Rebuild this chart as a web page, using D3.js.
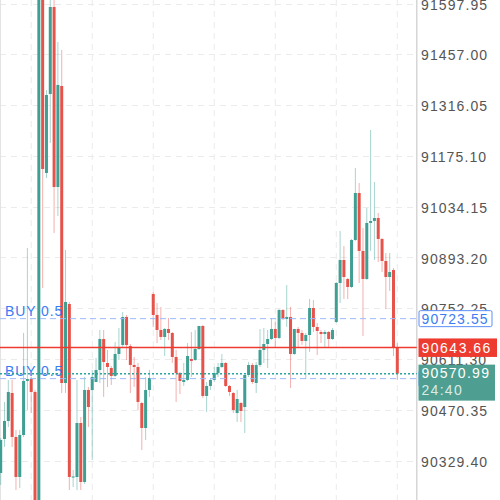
<!DOCTYPE html>
<html><head><meta charset="utf-8">
<script src="https://cdn.jsdelivr.net/npm/d3@7"></script>
<style>html,body{margin:0;padding:0;background:#fff;} svg{display:block;}</style>
</head><body><svg id="c" width="500" height="500"></svg>
<script>
// ---- data ----
const opens = [90295.3,90389.6,90439.6,90517.3,90395.2,90284.2,90400.7,90550.6,90556.1,90520.1,
90137.2,91718.7,91127.7,91346.9,91588.3,91088.8,91369.1,90545.0,90764.2,90282.8,
90284.2,90434.0,90270.3,90525.6,90525.6,90547.8,90581.1,90667.1,90600.5,90586.6,
90564.5,90625.5,90650.5,90728.2,90647.7,90595.0,90589.4,90489.5,90420.2,90525.6,
90792.0,90733.7,90692.1,90672.7,90694.9,90683.8,90617.2,90572.8,90547.8,90553.4,
90611.6,90608.8,90639.4,90703.2,90509.0,90536.7,90553.4,90572.8,90589.4,90600.5,
90536.7,90517.3,90461.8,90489.5,90478.4,90567.2,90595.0,90545.0,90595.0,90636.6,
90653.2,90667.1,90694.9,90669.9,90747.6,90722.6,90728.2,90625.5,90694.9,90683.8,
90661.6,90678.2,90753.1,90700.4,90686.5,90681.0,90686.5,90667.1,90714.3,90822.5,
90886.3,90833.6,90811.4,90941.8,91072.2,90911.3,90833.6,90989.0,90994.5,91002.8,
90944.6,90883.5,90839.1,90858.6,90642.1];
const highs = [90392.4,90492.3,90553.4,90553.4,90414.6,90414.6,90683.8,90919.6,90561.7,90525.6,
91774.2,91774.2,91358.0,91649.3,91649.3,91491.2,91469.0,90914.0,90769.8,90303.6,
90553.4,90450.7,90561.7,90533.9,90581.1,90614.4,90692.1,90692.1,90636.6,90592.2,
90658.8,90697.6,90742.0,90733.7,90653.2,90617.2,90600.5,90492.3,90561.7,90581.1,
90797.5,90767.0,90755.9,90697.6,90725.4,90686.5,90636.6,90575.5,90600.5,90656.0,
90686.5,90692.1,90703.2,90706.0,90547.8,90558.9,90589.4,90600.5,90625.5,90603.3,
90539.5,90520.1,90525.6,90492.3,90567.2,90603.3,90600.5,90603.3,90694.9,90697.6,
90692.1,90725.4,90714.3,90750.3,90750.3,90816.9,90755.9,90694.9,90700.4,90692.1,
90683.8,90778.1,90775.3,90711.5,90692.1,90692.1,90689.3,90697.6,90825.3,90966.8,
90925.1,90836.4,90944.6,91141.6,91099.9,90975.1,91030.6,91247.0,91102.7,91016.7,
90947.3,90905.7,90905.7,90864.1,90656.0];
const lows = [90262.0,90367.5,90422.9,90367.5,90248.1,90253.7,90395.2,90470.1,90461.8,90095.5,
90095.5,90808.6,91113.8,91210.9,90961.2,91008.4,90517.3,90517.3,90248.1,90256.5,
90248.1,90248.1,90264.8,90422.9,90331.4,90547.8,90545.0,90506.2,90533.9,90539.5,
90561.7,90608.8,90644.9,90608.8,90517.3,90533.9,90470.1,90359.1,90386.9,90506.2,
90700.4,90656.0,90664.3,90619.9,90664.3,90600.5,90492.3,90514.5,90536.7,90550.6,
90561.7,90606.1,90636.6,90503.4,90464.6,90525.6,90547.8,90561.7,90586.6,90533.9,
90509.0,90461.8,90436.8,90436.8,90406.3,90561.7,90542.3,90517.3,90589.4,90600.5,
90586.6,90664.3,90642.1,90667.1,90719.8,90700.4,90531.2,90622.7,90642.1,90650.5,
90556.1,90631.0,90686.5,90622.7,90656.0,90644.9,90644.9,90664.3,90711.5,90767.0,
90778.1,90778.1,90808.6,90939.0,90822.5,90675.4,90830.8,90911.3,90886.3,90880.7,
90853.0,90750.3,90800.3,90619.9,90553.4];
const closes = [90386.9,90439.6,90520.1,90395.2,90284.2,90400.7,90550.6,90556.1,90520.1,90137.2,
91718.7,91138.8,91344.1,91588.3,91088.8,91371.9,90545.0,90769.8,90284.2,90285.6,
90434.0,90270.3,90525.6,90478.4,90561.7,90581.1,90667.1,90603.3,90589.4,90564.5,
90625.5,90644.9,90728.2,90650.5,90595.0,90589.4,90492.3,90420.2,90525.6,90558.9,
90733.7,90692.1,90672.7,90694.9,90683.8,90617.2,90572.8,90550.6,90553.4,90619.9,
90606.1,90639.4,90703.2,90509.0,90536.7,90553.4,90572.8,90589.4,90600.5,90536.7,
90520.1,90470.1,90500.6,90467.3,90567.2,90595.0,90547.8,90595.0,90636.6,90653.2,
90667.1,90694.9,90669.9,90747.6,90722.6,90728.2,90625.5,90694.9,90683.8,90661.6,
90678.2,90753.1,90700.4,90689.3,90681.0,90686.5,90667.1,90692.1,90822.5,90886.3,
90839.1,90811.4,90941.8,91072.2,90911.3,90833.6,90989.0,90994.5,91002.8,90944.6,
90883.5,90839.1,90853.0,90642.1,90570.99];
const priceTicks = [91597.95,91457.00,91316.05,91175.10,91034.15,90893.20,90752.25,90611.30,90470.35,90329.40];
const gridIndices = [8,24,40,56,72,88,104];
const orderLevels = [90723.55, 90557.10];
const orderLabels = ["BUY 0.5", "BUY 0.5"];
const markPrice = 90643.66;
const lastPrice = 90570.99;
const countdown = "24:40";

// ---- layout ----
const W = 500, H = 500, plotW = 416.75;
const UP = "#3f9f92", DOWN = "#e5534b";
const FONT = "'Liberation Sans', Arial, sans-serif";
const svg = d3.select("#c");

const x = d3.scaleLinear().domain([0, opens.length - 1]).range([0.7, 397.3]);
const y = d3.scaleLinear().domain([90329.40, 91597.95]).range([460.7, 3.5]);
const bodyW = 3;

const candles = opens.map((o, i) => ({i, o, h: highs[i], l: lows[i], c: closes[i]}));

svg.append("defs").append("clipPath").attr("id", "plotclip")
  .append("rect").attr("x", 0).attr("y", 0).attr("width", plotW).attr("height", H);

// grid
const grid = svg.append("g").attr("clip-path", "url(#plotclip)");
grid.selectAll("line.h").data(priceTicks).join("line").attr("class", "h")
  .attr("x1", 0).attr("x2", plotW)
  .attr("y1", d => Math.round(y(d)) + 0.5).attr("y2", d => Math.round(y(d)) + 0.5)
  .attr("stroke", "#ebebeb").attr("stroke-width", 1).attr("stroke-dasharray", "6,5");
grid.selectAll("line.v").data(gridIndices).join("line").attr("class", "v")
  .attr("x1", d => x(d)).attr("x2", d => x(d))
  .attr("y1", 0).attr("y2", H)
  .attr("stroke", "#ebebeb").attr("stroke-width", 1).attr("stroke-dasharray", "6,5");

// left border
svg.append("line").attr("x1", 0.5).attr("x2", 0.5).attr("y1", 0).attr("y2", H)
  .attr("stroke", "#e3e3e3").attr("stroke-width", 1);

// candles
const cg = svg.append("g").attr("clip-path", "url(#plotclip)");
cg.selectAll("line.wick").data(candles).join("line").attr("class", "wick")
  .attr("x1", d => x(d.i)).attr("x2", d => x(d.i))
  .attr("y1", d => y(d.h)).attr("y2", d => y(d.l))
  .attr("stroke", d => d.c >= d.o ? UP : DOWN)
  .attr("stroke-opacity", 0.45).attr("stroke-width", 1);
cg.selectAll("rect.body").data(candles).join("rect").attr("class", "body")
  .attr("x", d => x(d.i) - bodyW / 2)
  .attr("width", bodyW)
  .attr("y", d => y(Math.max(d.o, d.c)))
  .attr("height", d => Math.max(1, Math.abs(y(d.o) - y(d.c))))
  .attr("fill", d => d.c >= d.o ? UP : DOWN);

// axis separator
svg.append("line").attr("x1", plotW).attr("x2", plotW).attr("y1", 0).attr("y2", H)
  .attr("stroke", "#d6d6d6").attr("stroke-width", 1.5);

// right axis labels
const ax = svg.append("g").attr("transform", `translate(421,0)`)
  .call(d3.axisRight(y).tickValues(priceTicks).tickFormat(d => d.toFixed(2)).tickSize(0).tickPadding(0));
ax.select(".domain").remove();
ax.selectAll("text").attr("dy", "0.4em").attr("x", 0)
  .style("font-family", FONT).style("font-size", "14px").style("letter-spacing", "1.1px")
  .attr("fill", "#555");

// order lines
const og = svg.append("g");
og.selectAll("line").data(orderLevels).join("line")
  .attr("x1", 0).attr("x2", plotW)
  .attr("y1", d => y(d)).attr("y2", d => y(d))
  .attr("stroke", "#9dbaf7").attr("stroke-width", 1).attr("stroke-dasharray", "6,4");
og.selectAll("text").data(orderLevels).join("text")
  .attr("x", 5).attr("y", d => y(d) - 3)
  .text((d, i) => orderLabels[i])
  .style("font-family", FONT).style("font-size", "14px").style("letter-spacing", "0.9px")
  .attr("fill", "#3b7cf2");

// mark price line
svg.append("line").attr("x1", 0).attr("x2", plotW)
  .attr("y1", y(markPrice)).attr("y2", y(markPrice))
  .attr("stroke", "#ee3b30").attr("stroke-width", 1.5);

// last price dotted line
svg.append("line").attr("x1", 0).attr("x2", plotW)
  .attr("y1", y(lastPrice)).attr("y2", y(lastPrice))
  .attr("stroke", "#26a69a").attr("stroke-width", 1.5).attr("stroke-dasharray", "2,2");

// order boxes
const ob = svg.append("g");
orderLevels.forEach(lv => {
  ob.append("rect").attr("x", 419).attr("y", y(lv) - 8).attr("width", 73).attr("height", 16)
    .attr("rx", 1.5).attr("fill", "#fff").attr("stroke", "#5b8ff5").attr("stroke-width", 1);
  ob.append("text").attr("x", 421.5).attr("y", y(lv) + 5).text(lv.toFixed(2))
    .style("font-family", FONT).style("font-size", "14px").style("letter-spacing", "1.1px")
    .attr("fill", "#3b7cf2");
});

// mark price box
svg.append("rect").attr("x", 418.5).attr("y", y(markPrice) - 9).attr("width", 78.5).attr("height", 18.5)
  .attr("fill", "#ee3b30");
svg.append("text").attr("x", 421.5).attr("y", y(markPrice) + 5.5).text(markPrice.toFixed(2))
  .style("font-family", FONT).style("font-size", "14px").style("letter-spacing", "1.5px")
  .attr("fill", "#fff");

// last price box
svg.append("rect").attr("x", 418.5).attr("y", y(lastPrice) - 9).attr("width", 76.5).attr("height", 36)
  .attr("fill", "#4e9f91");
svg.append("text").attr("x", 421.5).attr("y", y(lastPrice) + 4.5).text(lastPrice.toFixed(2))
  .style("font-family", FONT).style("font-size", "14px").style("letter-spacing", "1.3px")
  .attr("fill", "#fff");
svg.append("text").attr("x", 421.5).attr("y", y(lastPrice) + 21.5).text(countdown)
  .style("font-family", FONT).style("font-size", "14px").style("letter-spacing", "1.3px")
  .attr("fill", "#fff").attr("fill-opacity", 0.8);
</script>
</body></html>
